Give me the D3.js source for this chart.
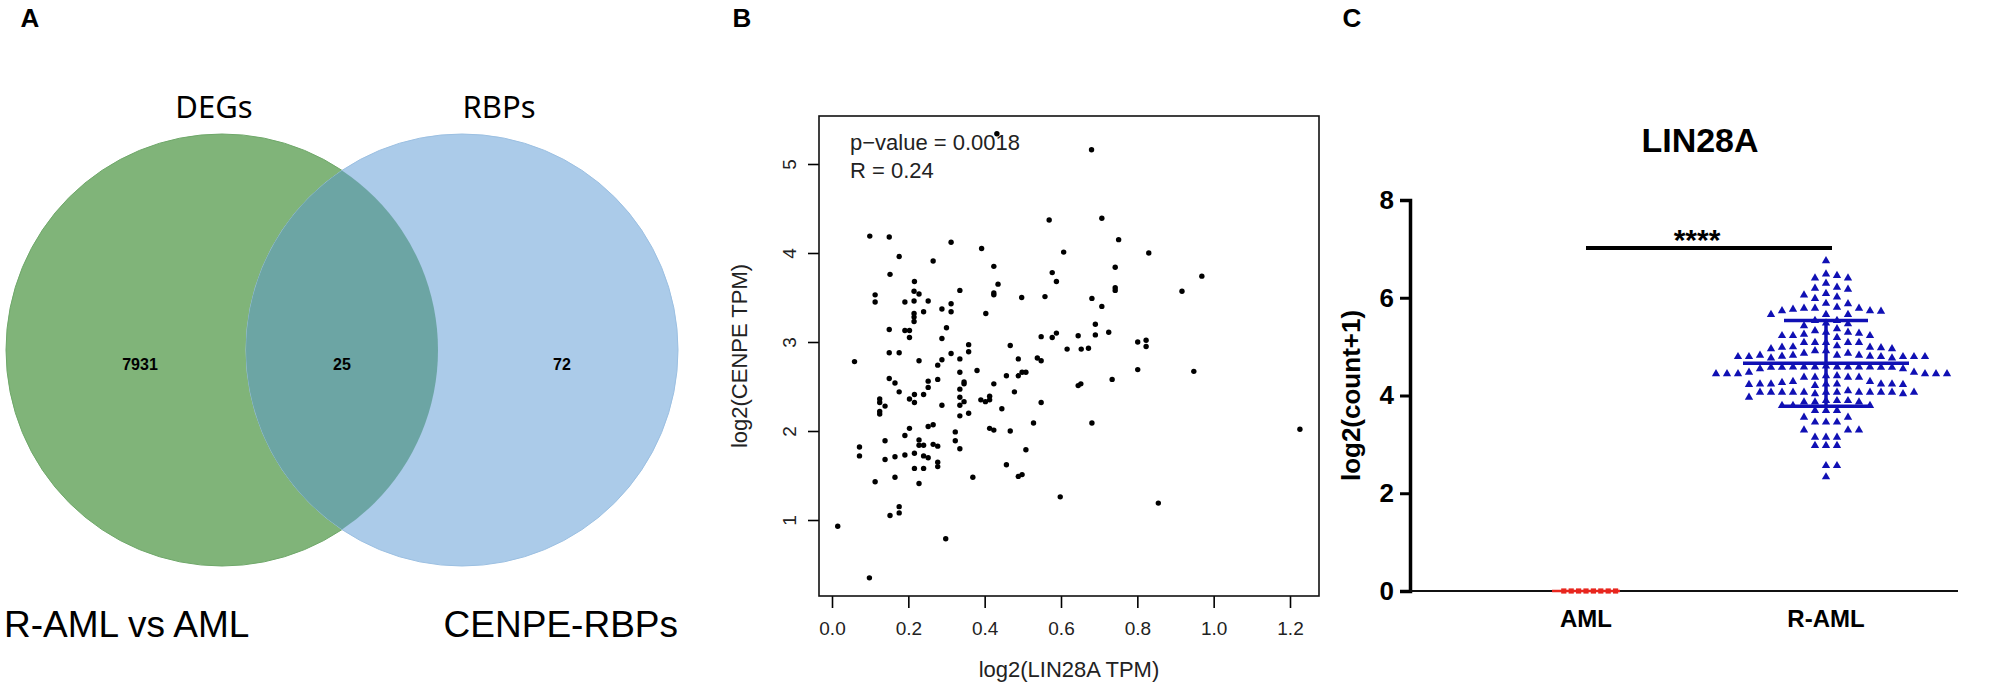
<!DOCTYPE html>
<html>
<head>
<meta charset="utf-8">
<script src="https://cdn.jsdelivr.net/npm/d3@7"></script>
<style>
  body { margin: 0; background: #fff; }
  svg text { font-family: "Liberation Sans", Arial, sans-serif; }
</style>
</head>
<body>
<svg id="fig" width="1996" height="685"></svg>
<script>
//
//  three panel figure: venn (A), correlation scatter (B), dot plot (C)
//

// ---- panel A
let vennSets = ["DEGs", "RBPs"];
let vennCounts = [7931, 25, 72];          // left only, both, right only
let vennCaptions = ["R-AML vs AML", "CENPE-RBPs"];

// ---- panel B, [log2(LIN28A TPM), log2(CENPE TPM)]
let scatterPoints = [
  [0.680,5.16],[0.432,5.34],[0.099,4.19],[0.150,4.18],[0.312,4.12],[0.392,4.05],[0.176,3.96],[0.265,3.91],
  [0.569,4.37],[0.707,4.39],[0.751,4.15],[0.607,4.01],[0.742,3.84],[0.424,3.85],[0.152,3.76],[0.577,3.78],
  [0.588,3.68],[0.435,3.65],[0.216,3.68],[0.113,3.53],[0.113,3.45],[0.215,3.57],[0.228,3.54],[0.335,3.58],
  [0.424,3.55],[0.424,3.53],[0.742,3.61],[0.742,3.58],[0.497,3.50],[0.558,3.51],[0.681,3.49],[0.191,3.45],
  [0.215,3.46],[0.252,3.46],[0.288,3.37],[0.312,3.43],[0.312,3.34],[0.240,3.34],[0.215,3.32],[0.215,3.28],
  [0.215,3.23],[0.403,3.32],[0.707,3.40],[0.150,3.14],[0.191,3.13],[0.203,3.13],[0.203,3.05],[0.300,3.16],
  [0.288,3.04],[0.690,3.20],[0.690,3.08],[0.725,3.11],[0.588,3.10],[0.577,3.05],[0.548,3.06],[0.645,3.07],
  [0.358,2.97],[0.467,2.96],[0.150,2.88],[0.176,2.88],[0.358,2.89],[0.616,2.92],[0.653,2.92],[0.672,2.93],
  [0.538,2.82],[0.548,2.79],[0.059,2.78],[0.228,2.79],[0.288,2.80],[0.312,2.87],[0.335,2.81],[0.488,2.81],
  [0.277,2.74],[0.380,2.68],[0.335,2.66],[0.508,2.66],[0.498,2.66],[0.488,2.62],[0.457,2.62],[0.150,2.59],
  [0.165,2.54],[0.252,2.56],[0.277,2.58],[0.346,2.55],[0.346,2.53],[0.424,2.53],[0.734,2.58],[0.652,2.53],
  [0.645,2.51],[0.335,2.47],[0.252,2.49],[0.176,2.44],[0.478,2.44],[0.216,2.41],[0.240,2.41],[0.125,2.36],
  [0.125,2.32],[0.203,2.36],[0.216,2.32],[0.335,2.38],[0.346,2.33],[0.335,2.29],[0.390,2.35],[0.402,2.33],
  [0.413,2.35],[0.413,2.39],[0.548,2.32],[0.139,2.28],[0.288,2.29],[0.125,2.22],[0.125,2.19],[0.445,2.25],
  [0.335,2.17],[0.358,2.20],[0.252,2.05],[0.265,2.07],[0.203,2.03],[0.413,2.03],[0.424,2.01],[0.467,2.00],
  [0.528,2.09],[0.681,2.09],[0.323,1.99],[0.323,1.89],[0.335,1.80],[0.139,1.89],[0.191,1.95],[0.228,1.90],
  [0.228,1.84],[0.240,1.84],[0.265,1.85],[0.277,1.83],[0.072,1.82],[0.072,1.72],[0.139,1.68],[0.165,1.71],
  [0.191,1.73],[0.216,1.75],[0.240,1.72],[0.252,1.70],[0.508,1.79],[0.277,1.65],[0.277,1.60],[0.216,1.58],
  [0.240,1.58],[0.457,1.62],[0.113,1.43],[0.165,1.48],[0.228,1.41],[0.369,1.48],[0.488,1.49],[0.498,1.51],
  [0.598,1.26],[0.176,1.15],[0.176,1.08],[0.152,1.05],[0.015,0.93],[0.298,0.79],[0.098,0.35],
  [0.830,4.00],[0.969,3.74],[0.917,3.57],[0.801,3.00],[0.823,3.02],[0.823,2.95],[0.801,2.69],[0.948,2.67],
  [1.226,2.02],[0.855,1.19]
];
let scatterXTicks = [0, 0.2, 0.4, 0.6, 0.8, 1.0, 1.2];
let scatterYTicks = [1, 2, 3, 4, 5];
let scatterStats = ["p\u2212value = 0.0018", "R = 0.24"];

// ---- panel C, log2(count+1)
let groups = ["AML", "R-AML"];
let amlValues = [0, 0, 0, 0, 0, 0, 0, 0];
let ramlValues = [
  6.77, 6.50, 6.47, 6.42, 6.42, 6.31, 6.21, 6.23, 6.19, 6.10, 6.07, 6.03, 6.00,
  5.90, 5.82, 5.80, 5.78, 5.74, 5.67, 5.67, 5.67, 5.75, 5.75, 5.80, 5.80, 5.89,
  5.55, 5.48, 5.44, 5.50, 5.55,
  5.38, 5.31, 5.29, 5.24, 5.24, 5.20, 5.24, 5.27, 5.31, 5.34,
  5.10, 5.10, 5.10, 5.01, 4.99, 4.93, 4.97, 4.97, 4.93, 5.00, 5.00, 5.03, 5.10, 5.10,
  4.88, 4.84, 4.84, 4.81, 4.82, 4.78, 4.81, 4.84, 4.81, 4.78, 4.81, 4.81, 4.82, 4.81, 4.84, 4.88,
  4.60, 4.60, 4.59, 4.56, 4.56, 4.60, 4.59, 4.60, 4.62, 4.60, 4.59, 4.59, 4.60, 4.60,
  4.39, 4.49, 4.46, 4.42, 4.42, 4.46, 4.46, 4.46, 4.46, 4.46, 4.49, 4.39, 4.39, 4.39,
  4.30, 4.28, 4.24, 4.25, 4.25, 4.22, 4.25, 4.25, 4.25, 4.25, 4.30, 4.24,
  4.08, 4.08, 4.08, 4.08, 4.08, 4.05, 4.11, 4.08, 4.08, 4.05, 4.08, 4.08, 4.08, 4.08, 4.08,
  3.81, 3.81, 3.91, 3.91, 3.88, 3.88, 3.88, 3.91, 3.98, 3.81,
  3.71, 3.71, 3.71, 3.57, 3.57,
  3.47, 3.47, 3.47, 3.31, 3.31, 3.31, 3.16, 3.16, 3.16, 2.99, 2.99, 2.99,
  2.58, 2.58, 2.35
];
let dotYTicks = [0, 2, 4, 6, 8];

let svg = d3.select("#fig");

function panelLabel(txt, x) {
  svg.append("text").attr("x", x).attr("y", 27).attr("text-anchor", "middle")
    .style("font-size", "26px").style("font-weight", "bold").text(txt);
}

// ================= panel A =================
function drawVenn() {
  let g = svg.append("g");
  panelLabel("A", 30);

  let r = 216, cy = 350;
  let centers = [222, 462];
  let defs = svg.append("defs");
  defs.append("clipPath").attr("id", "clipLeft")
    .append("circle").attr("cx", centers[0]).attr("cy", cy).attr("r", r);

  g.append("circle").attr("cx", centers[0]).attr("cy", cy).attr("r", r)
    .attr("fill", "#80b479").attr("stroke", "#6fa86a").attr("stroke-width", 1);
  g.append("circle").attr("cx", centers[1]).attr("cy", cy).attr("r", r)
    .attr("fill", "#abcbe9").attr("stroke", "#9cc0e2").attr("stroke-width", 1);
  // overlap
  g.append("circle").attr("cx", centers[1]).attr("cy", cy).attr("r", r)
    .attr("clip-path", "url(#clipLeft)")
    .attr("fill", "#6ca5a4");

  let setLabelX = [214, 499];
  g.selectAll(".setlab").data(vennSets).enter().append("text")
    .attr("x", (d, i) => setLabelX[i]).attr("y", 118)
    .attr("text-anchor", "middle")
    .style("font-family", "'Noto Sans', 'Open Sans', sans-serif")
    .style("font-size", "31px").text(d => d);

  let countX = [140, 342, 562];
  g.selectAll(".cnt").data(vennCounts).enter().append("text")
    .attr("x", (d, i) => countX[i]).attr("y", 370)
    .attr("text-anchor", "middle")
    .style("font-size", "16px").style("font-weight", "bold").text(d => d);

  let capX = [4, 678];
  let capAnchor = ["start", "end"];
  g.selectAll(".cap").data(vennCaptions).enter().append("text")
    .attr("x", (d, i) => capX[i]).attr("y", 637)
    .attr("text-anchor", (d, i) => capAnchor[i])
    .style("font-size", "37px").text(d => d);
}

// ================= panel B =================
function drawScatter() {
  let g = svg.append("g");
  panelLabel("B", 742);

  let box = { left: 819, right: 1319, top: 116, bottom: 596 };
  let x = d3.scaleLinear().domain([0, 1.2]).range([832, 1290]);
  let y = d3.scaleLinear().domain([1, 5]).range([520, 164]);

  let xAxis = g.append("g").attr("transform", "translate(0," + box.bottom + ")")
    .call(d3.axisBottom(x).tickValues(scatterXTicks).tickFormat(d3.format(".1f"))
      .tickSize(12).tickPadding(14));
  xAxis.select(".domain").remove();
  xAxis.selectAll("text").style("font-size", "19px").attr("fill", "#222");
  xAxis.selectAll("line").attr("stroke-width", 1.6);

  let yAxis = g.append("g").attr("transform", "translate(" + box.left + ",0)")
    .call(d3.axisLeft(y).tickValues(scatterYTicks).tickSize(11).tickFormat(d3.format("d")));
  yAxis.select(".domain").remove();
  yAxis.selectAll("line").attr("stroke-width", 1.6);
  yAxis.selectAll("text")
    .attr("x", null).attr("dy", null)
    .attr("text-anchor", "middle")
    .attr("transform", "translate(-23,0) rotate(-90)")
    .style("font-size", "19px").attr("fill", "#222");

  g.append("rect").attr("x", box.left).attr("y", box.top)
    .attr("width", box.right - box.left).attr("height", box.bottom - box.top)
    .attr("fill", "none").attr("stroke", "#111").attr("stroke-width", 1.6);

  g.selectAll(".pt").data(scatterPoints).enter().append("circle")
    .attr("cx", d => x(d[0])).attr("cy", d => y(d[1])).attr("r", 2.7)
    .attr("fill", "#000");

  g.selectAll(".stat").data(scatterStats).enter().append("text")
    .attr("x", 850).attr("y", (d, i) => 150 + i * 28)
    .style("font-size", "22px").attr("fill", "#222").text(d => d);

  g.append("text").attr("x", (box.left + box.right) / 2).attr("y", 677)
    .attr("text-anchor", "middle").style("font-size", "22px").attr("fill", "#222")
    .text("log2(LIN28A TPM)");
  g.append("text")
    .attr("transform", "translate(747," + ((box.top + box.bottom) / 2) + ") rotate(-90)")
    .attr("text-anchor", "middle").style("font-size", "22px").attr("fill", "#222")
    .text("log2(CENPE TPM)");
}

// simple swarm: shift points sideways until they stop overlapping
function swarm(values, y, step, dyMin) {
  let placed = [];
  let order = values.map((v, i) => i).sort((a, b) => values[b] - values[a]);
  let offs = new Array(values.length);
  order.forEach(i => {
    let py = y(values[i]);
    for (let k = 0; k < 60; k++) {
      let off = (k % 2 ? 1 : -1) * Math.ceil(k / 2) * step;
      let hit = placed.some(p => Math.abs(p[1] - py) < dyMin && Math.abs(p[0] - off) < step * 0.9);
      if (!hit) { offs[i] = off; placed.push([off, py]); break; }
    }
  });
  return offs;
}

// ================= panel C =================
function drawDots() {
  let g = svg.append("g");
  panelLabel("C", 1352);

  let x = d3.scalePoint().domain(groups).range([1586, 1826]);
  let y = d3.scaleLinear().domain([0, 8]).range([591, 200]);
  let blue = "#1010b4", red = "#e8261e";

  let yAxis = g.append("g").attr("transform", "translate(1410,0)")
    .call(d3.axisLeft(y).tickValues(dotYTicks).tickSize(10).tickPadding(6));
  yAxis.select(".domain").attr("stroke-width", 3.5);
  yAxis.selectAll("line").attr("stroke-width", 3);
  yAxis.selectAll("text").style("font-size", "26px").style("font-weight", "bold").attr("fill", "#000");

  // baseline
  g.append("line").attr("x1", 1410).attr("x2", 1958).attr("y1", y(0)).attr("y2", y(0))
    .attr("stroke", "#111").attr("stroke-width", 2);

  g.append("text").attr("transform", "translate(1360," + y(4) + ") rotate(-90)")
    .attr("text-anchor", "middle").style("font-size", "26px").style("font-weight", "bold")
    .text("log2(count+1)");

  g.append("text").attr("x", 1700).attr("y", 152).attr("text-anchor", "middle")
    .style("font-size", "34px").style("font-weight", "bold").text("LIN28A");

  g.selectAll(".glab").data(groups).enter().append("text")
    .attr("x", d => x(d)).attr("y", y(0) + 36).attr("text-anchor", "middle")
    .style("font-size", "24px").style("font-weight", "bold").text(d => d);

  // significance bar
  g.append("line").attr("x1", x("AML")).attr("x2", x("R-AML") + 6)
    .attr("y1", 248).attr("y2", 248).attr("stroke", "#000").attr("stroke-width", 4);
  g.append("text").attr("x", 1697).attr("y", 250).attr("text-anchor", "middle")
    .style("font-size", "30px").style("font-weight", "bold").text("****");

  // AML points
  let amlOff = swarm(amlValues, y, 7.4, 6);
  g.selectAll(".aml").data(amlValues).enter().append("rect")
    .attr("x", (d, i) => x("AML") + amlOff[i] - 2.6).attr("y", d => y(d) - 2.6)
    .attr("width", 5.2).attr("height", 5.2).attr("fill", red);
  g.append("line").attr("x1", x("AML") - 34).attr("x2", x("AML") + 34)
    .attr("y1", y(d3.mean(amlValues))).attr("y2", y(d3.mean(amlValues)))
    .attr("stroke", red).attr("stroke-width", 2.5);

  // R-AML points
  let off = swarm(ramlValues, y, 11, 8);
  let tri = d3.symbol().type(d3.symbolTriangle).size(30);
  g.selectAll(".raml").data(ramlValues).enter().append("path")
    .attr("d", tri)
    .attr("transform", (d, i) => "translate(" + (x("R-AML") + off[i]) + "," + (y(d) + 0.8) + ")")
    .attr("fill", blue);

  let m = d3.mean(ramlValues), sd = d3.deviation(ramlValues);
  let cx = x("R-AML");
  g.append("line").attr("x1", cx).attr("x2", cx).attr("y1", y(m + sd)).attr("y2", y(m - sd))
    .attr("stroke", blue).attr("stroke-width", 3.5);
  g.append("line").attr("x1", cx - 83).attr("x2", cx + 83).attr("y1", y(m)).attr("y2", y(m))
    .attr("stroke", blue).attr("stroke-width", 3.5);
  [m + sd, m - sd].forEach(v => {
    g.append("line").attr("x1", cx - 42).attr("x2", cx + 42).attr("y1", y(v)).attr("y2", y(v))
      .attr("stroke", blue).attr("stroke-width", 3.5);
  });
}

drawVenn();
drawScatter();
drawDots();
</script>
</body>
</html>
